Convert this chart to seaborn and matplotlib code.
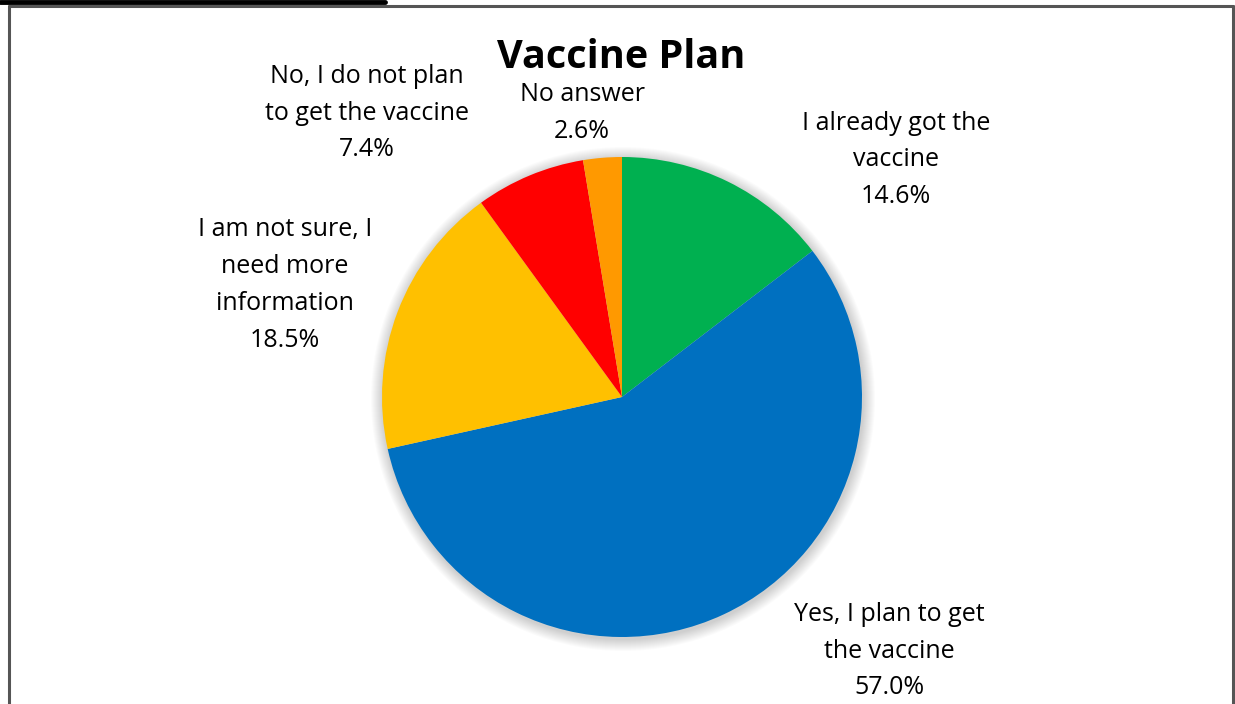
import matplotlib
matplotlib.use("Agg")
import matplotlib.pyplot as plt
from matplotlib.patches import Circle
from matplotlib.lines import Line2D
import seaborn as sns

# Survey responses, in order clockwise from 12 o'clock
categories = [
    "I already got the\nvaccine",
    "Yes, I plan to get\nthe vaccine",
    "I am not sure, I\nneed more\ninformation",
    "No, I do not plan\nto get the vaccine",
    "No answer",
]
shares = [14.6, 57.0, 18.5, 7.4, 2.6]
colors = ["#00B050", "#0070C0", "#FFC000", "#FF0000", "#FF9900"]

sns.set_theme(style="white")
plt.rcParams["font.family"] = ["Open Sans", "DejaVu Sans"]

W, H = 1235, 704
fig = plt.figure(figsize=(W / 100, H / 100), dpi=100)
fig.patch.set_facecolor("white")
ax = fig.add_axes([0, 0, 1, 1])

cx, cy, r = 622, H - 397, 240

# soft shadow around the pie
for k in range(12):
    ax.add_patch(Circle((cx + 1, cy - 2), r + 12 - k, color="black",
                        alpha=0.016, lw=0, zorder=1))

ax.pie(shares, colors=colors, startangle=90, counterclock=False,
       center=(cx, cy), radius=r, frame=True,
       wedgeprops=dict(linewidth=0, zorder=2))
ax.set_xlim(0, W)
ax.set_ylim(0, H)
ax.set_aspect("equal")
ax.axis("off")

# label anchor points (text centres)
label_pos = [(896, 160), (889, 651), (285, 285), (367, 113), (582, 113)]
for cat, val, (x, y) in zip(categories, shares, label_pos):
    ax.text(x, H - y, f"{cat}\n{val:.1f}%", ha="center", va="center",
            fontsize=18, linespacing=1.62, color="black", zorder=5)

ax.text(621, H - 58, "Vaccine Plan", ha="center", va="center",
        fontsize=28.5, fontweight="bold", color="black", zorder=5)

# chart frame and top rule
frame_col = "#555555"
ax.add_line(Line2D([9, 9], [0, H - 6], color=frame_col, lw=2.2))
ax.add_line(Line2D([9, 1233], [H - 6, H - 6], color=frame_col, lw=2.2))
ax.add_line(Line2D([1233, 1233], [0, H - 6], color=frame_col, lw=2.2))
ax.add_line(Line2D([0, 385], [H - 1.5, H - 1.5], color="black", lw=3.5))

fig.savefig("out.png", dpi=100, facecolor="white")
